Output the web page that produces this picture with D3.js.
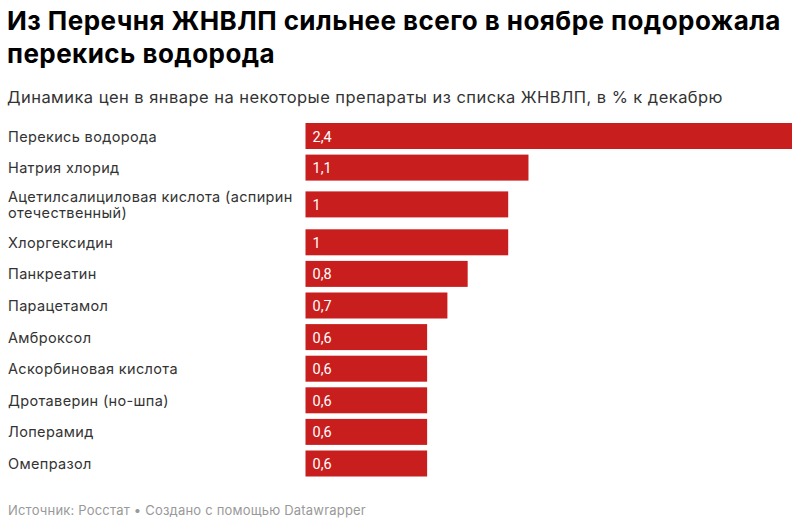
<!DOCTYPE html>
<html><head><meta charset="utf-8">
<script src="https://cdn.jsdelivr.net/npm/d3@7"></script>
<style>
html,body{margin:0;padding:0;background:#fff;}
svg{display:block;}
</style></head>
<body>
<svg id="chart" width="800" height="525"></svg>
<script>
const titleLines = ["Из Перечня ЖНВЛП сильнее всего в ноябре подорожала", "перекись водорода"];
const subtitle = "Динамика цен в январе на некоторые препараты из списка ЖНВЛП, в % к декабрю";
const footer = "Источник: Росстат • Создано с помощью Datawrapper";
const categories = ["Перекись водорода", "Натрия хлорид", "Ацетилсалициловая кислота (аспирин отечественный)", "Хлоргексидин", "Панкреатин", "Парацетамол", "Амброксол", "Аскорбиновая кислота", "Дротаверин (но-шпа)", "Лоперамид", "Омепразол"];
const values = [2.4, 1.1, 1, 1, 0.8, 0.7, 0.6, 0.6, 0.6, 0.6, 0.6];
const valueLabels = ["2,4", "1,1", "1", "1", "0,8", "0,7", "0,6", "0,6", "0,6", "0,6", "0,6"];

const svg = d3.select("#chart");
const font = "Inter, 'Liberation Sans', Arial, sans-serif";

const title = svg.append("text").attr("font-family", font).attr("font-weight", "bold")
  .attr("font-size", 26).attr("letter-spacing", 0.45).attr("fill", "#000");
titleLines.forEach((t, i) => title.append("tspan").attr("x", 7).attr("y", 30 + i * 32.5).text(t));

svg.append("text").attr("x", 7).attr("y", 103).attr("font-family", font)
  .attr("font-size", 16.5).attr("letter-spacing", 0.45).attr("fill", "#333").text(subtitle);

svg.append("text").attr("x", 8).attr("y", 515).attr("font-family", font)
  .attr("font-size", 13).attr("letter-spacing", 0.2).attr("fill", "#999").text(footer);

const x = d3.scaleLinear().domain([0, d3.max(values)]).range([305.5, 792]);

// wrap labels
const labelMax = 292;
const measure = svg.append("text").attr("font-family", font).attr("font-size", 14.5)
  .attr("letter-spacing", 0.35).attr("visibility", "hidden");
function wrap(str) {
  const words = str.split(" ");
  const lines = [];
  let cur = "";
  words.forEach(w => {
    const test = cur ? cur + " " + w : w;
    measure.text(test);
    if (measure.node().getComputedTextLength() > labelMax && cur) { lines.push(cur); cur = w; }
    else cur = test;
  });
  lines.push(cur);
  return lines;
}
const rows = [];
let yCursor = 123;
const barH = 26, pitch = 31.6;
categories.forEach((c, i) => {
  const lines = wrap(c);
  const extra = (lines.length - 1) * 11.5;
  const pre = (lines.length - 1) * 5.2;
  rows.push({ cat: c, lines, value: values[i], label: valueLabels[i], y: yCursor + pre });
  yCursor += pitch + extra;
});
measure.remove();

const g = svg.append("g");
const row = g.selectAll("g.row").data(rows).join("g").attr("class", "row");

row.append("rect")
  .attr("x", x(0)).attr("y", d => d.y)
  .attr("width", d => x(d.value) - x(0)).attr("height", barH)
  .attr("fill", "#c81e1e");

row.append("text")
  .attr("font-family", font).attr("font-size", 14.5).attr("letter-spacing", 0.35).attr("fill", "#333")
  .each(function(d) {
    const t = d3.select(this);
    const n = d.lines.length;
    d.lines.forEach((l, k) => {
      const yy = n === 1 ? d.y + 18.5 : d.y + 10.9 + k * 15.8;
      t.append("tspan").attr("x", 8).attr("y", yy).text(l);
    });
  });

row.append("text")
  .attr("x", x(0) + 7).attr("y", d => d.y + 18.5)
  .attr("font-family", "Roboto, sans-serif").attr("font-size", 14.5).attr("fill", "#fff")
  .text(d => d.label);
</script>
</body></html>
